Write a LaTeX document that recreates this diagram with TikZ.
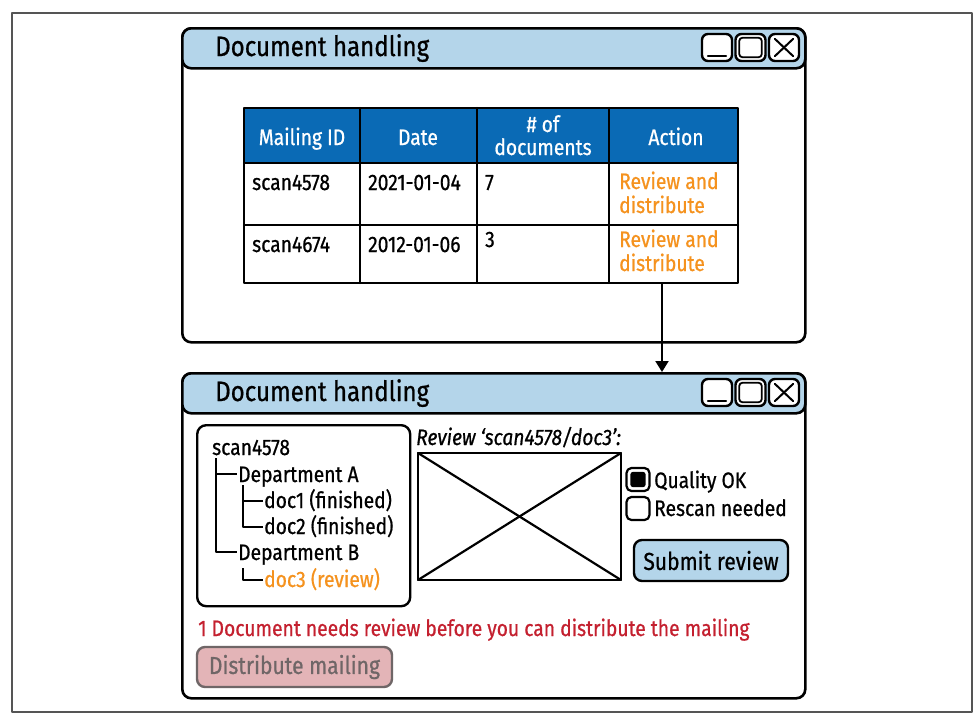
\documentclass[tikz,border=0pt]{standalone}
\usepackage{fontspec}
\setmainfont{Fira Sans}[FakeStretch=0.86,FakeBold=0.7]
\usetikzlibrary{arrows.meta}
\definecolor{barblue}{HTML}{B4D5EA}
\definecolor{headblue}{HTML}{0A6AB5}
\definecolor{linkorange}{HTML}{F5921E}
\definecolor{errred}{HTML}{C4202F}
\definecolor{offpink}{HTML}{E3B4B7}
\definecolor{btngray}{HTML}{6F6667}
\definecolor{framegray}{HTML}{555555}

\begin{document}
\begin{tikzpicture}[x=1pt,y=-1pt,line cap=round,line join=round]
	\tikzstyle{win}=[draw,line width=2.6pt,rounded corners=9pt,fill=white,anchor=north west,inner sep=0];
	\tikzstyle{bar}=[win,fill=barblue];
	\tikzstyle{winbtn}=[draw,line width=2.4pt,rounded corners=6pt,fill=white,minimum width=30pt,minimum height=27pt,inner sep=0];
	\tikzstyle{txt}=[inner sep=0,font=\fontsize{22.4}{26}\selectfont];
	\tikzstyle{lbl}=[txt,anchor=base west];
	\tikzstyle{head}=[txt,anchor=base,text=white];
	\tikzstyle{tabline}=[line width=2.4pt];
	\tikzstyle{treeline}=[line width=2.2pt,line cap=butt];
	\tikzstyle{radio}=[draw,line width=2.2pt,rounded corners=5pt,fill=white,minimum size=23pt,inner sep=0];
	\tikzstyle{push}=[draw,line width=2.4pt,rounded corners=8pt,inner sep=0,font=\fontsize{24.5}{28}\selectfont];

	\useasboundingbox (0,0) rectangle (978,723);
	\draw[framegray,line width=1.3pt] (12,13) rectangle (972,712);

	\foreach \t/\b/\n in {27/341/1,372/697/2}{
		\node[win,minimum width=623pt,minimum height={\b-\t}] (win\n) at (181,\t) {};
		\node[bar,minimum width=623pt,minimum height=40pt] (bar\n) at (181,\t) {};
		\node[anchor=base west,inner sep=0,font=\fontsize{28}{32}\selectfont] (title\n) at (215,\t+29) {Document handling};
		\node[winbtn] (min\n) at (717,\t+20.5) {};
		\node[winbtn] (max\n) at (750.5,\t+20.5) {};
		\node[winbtn] (cls\n) at (784,\t+20.5) {};
		\draw[line width=2pt] ([shift={(7,-6)}]min\n.south west) -- ([shift={(-7,-6)}]min\n.south east);
		\draw[line width=1.8pt,rounded corners=3pt] ([shift={(5,-5)}]max\n.south west) rectangle ([shift={(-5,5)}]max\n.north east);
		\draw[line width=2pt] ([shift={(7,-6)}]cls\n.south west) -- ([shift={(-7,6)}]cls\n.north east);
		\draw[line width=2pt] ([shift={(7,6)}]cls\n.north west) -- ([shift={(-7,-6)}]cls\n.south east);
	}

	\fill[headblue] (244,108) rectangle (738,163);
	\draw[tabline] (244,108) rectangle (738,283);
	\foreach \y in {163,225} \draw[tabline] (244,\y) -- (738,\y);
	\foreach \x in {360,477,609} \draw[tabline] (\x,108) -- (\x,283);
	\coordinate (tabbot) at (244,283);

	\node[head] (hid) at (302,145) {Mailing ID};
	\node[head] (hdate) at (418,145) {Date};
	\node[head] (hnum) at (543,132) {\# of};
	\node[head] (hdocs) at (543,155) {documents};
	\node[head] (hact) at (676,145) {Action};

	\node[lbl] (id1) at (252,190) {scan4578};
	\node[lbl] (date1) at (368,190) {2021-01-04};
	\node[lbl] (num1) at (485,190) {7};
	\node[lbl,text=linkorange] (act1a) at (619,189) {Review and};
	\node[lbl,text=linkorange] (act1b) at (619,213) {distribute};
	\node[lbl] (id2) at (252,252) {scan4674};
	\node[lbl] (date2) at (368,252) {2012-01-06};
	\node[lbl] (num2) at (485,247) {3};
	\node[lbl,text=linkorange] (act2a) at (619,247) {Review and};
	\node[lbl,text=linkorange] (act2b) at (619,271) {distribute};

	\draw[line width=2pt,-{Triangle[length=11pt,width=13pt]}] (act2b.south |- tabbot) -- (act2b.south |- win2.north);

	\node[win,line width=2.4pt,minimum width=213pt,minimum height=181pt] (tbox) at (196,424) {};
	\node[lbl] (root) at (212,455) {scan4578};
	\node[lbl] (depA) at (238,482) {Department A};
	\node[lbl] (doc1) at (264,508) {doc1 (finished)};
	\node[lbl] (doc2) at (264,534) {doc2 (finished)};
	\node[lbl] (depB) at (238,560) {Department B};
	\node[lbl,text=linkorange] (doc3) at (264,587) {doc3 (review)};
	\draw[treeline] ([shift={(4pt,-3pt)}]root.base west) |- ([shift={(-1pt,8pt)}]depB.base west);
	\draw[treeline] ([shift={(4pt,-3pt)}]root.base west) |- ([shift={(-1pt,8pt)}]depA.base west);
	\draw[treeline] ([shift={(5pt,-3pt)}]depA.base west) |- ([shift={(-1pt,7pt)}]doc2.base west);
	\draw[treeline] ([shift={(5pt,-3pt)}]depA.base west) |- ([shift={(-1pt,7pt)}]doc1.base west);
	\draw[treeline] ([shift={(5pt,-8pt)}]depB.base west) |- ([shift={(-1pt,7pt)}]doc3.base west);

	\node[lbl,font=\fontsize{22.4}{26}\selectfont\itshape] (cap) at (416,445) {Review ‘scan4578/doc3’:};
	\node[draw,line width=2.4pt,minimum width=203pt,minimum height=127pt,anchor=north west,inner sep=0,outer sep=0] (img) at (418,453) {};
	\draw[line width=2.2pt] (img.north west) -- (img.south east);
	\draw[line width=2.2pt] (img.south west) -- (img.north east);

	\node[radio] (rok) at (638,479.5) {};
	\fill[rounded corners=2.5pt] ([shift={(5,-5)}]rok.south west) rectangle ([shift={(-5,5)}]rok.north east);
	\node[radio] (rscan) at (638,508.5) {};
	\node[lbl] (qok) at (654,488) {Quality OK};
	\node[lbl] (qscan) at (654,516) {Rescan needed};
	\node[push,fill=barblue,minimum width=154pt,minimum height=41pt] (submit) at (711,560.5) {Submit review};

	\node[lbl,text=errred] (warn) at (198,636) {1 Document needs review before you can distribute the mailing};
	\node[push,draw=btngray,fill=offpink,text=btngray,minimum width=195pt,minimum height=40pt] (dist) at (294.5,667) {Distribute mailing};
\end{tikzpicture}
\end{document}
